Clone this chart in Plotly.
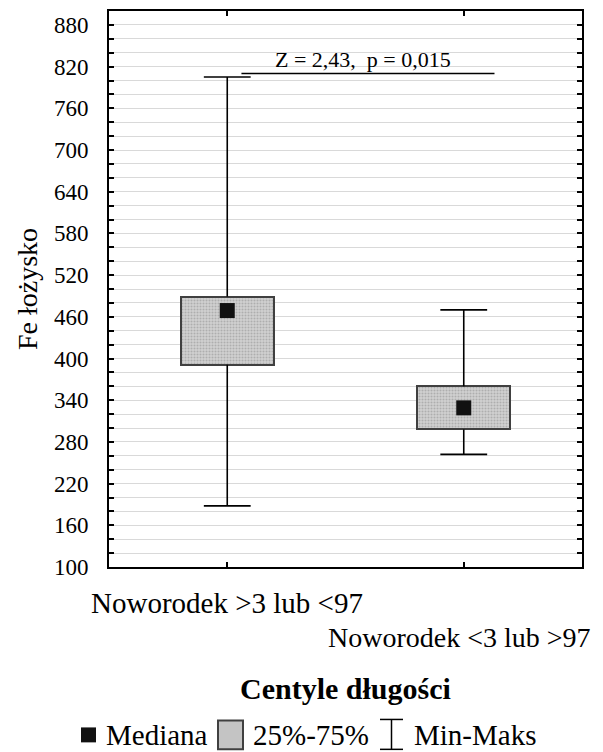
import plotly.graph_objects as go

# ---- data ----
categories = ["Noworodek >3 lub <97", "Noworodek <3 lub >97"]
x_pos = [0, 1]
q1 = [391, 298]
q3 = [489, 360]
median = [469, 329]
minimum = [188, 262]
maximum = [805, 470]
sig_text = "Z = 2,43,  p = 0,015"
sig_y = 810
sig_x = [0.06, 1.13]
y_ticks = list(range(100, 901, 20))
y_labels = [str(v) if (v - 100) % 60 == 0 else "" for v in y_ticks]
y_title = "Fe łożysko"
x_title = "Centyle długości"
legend_labels = ["Mediana", "25%-75%", "Min-Maks"]

FONT = "Liberation Serif"
OFF = 8  # browser body margin
W, H = 603 - OFF, 752 - OFF
L, R, T, B = 109 - OFF, 21, 9 - OFF, 185
PW, PH = W - L - R, H - T - B

def px_x(p):
    return (p - OFF - L) / PW

def px_y(p):
    return (H - B - (p - OFF)) / PH

box_w = 0.394
cap = 0.099

fig = go.Figure()

# boxes
fig.add_trace(go.Bar(
    x=x_pos, y=[b - a for a, b in zip(q1, q3)], base=q1, width=box_w,
    marker=dict(color="#c4c4c4", line=dict(color="#404040", width=2),
                pattern=dict(shape=".", fgcolor="#8a8a8a", bgcolor="#d2d2d2",
                             size=3, solidity=0.4)),
    showlegend=False, hoverinfo="skip"))

# whiskers
wx, wy = [], []
for x, a, b, lo, hi in zip(x_pos, q1, q3, minimum, maximum):
    wx += [x, x, None, x - cap, x + cap, None, x, x, None, x - cap, x + cap, None]
    wy += [b, hi, None, hi, hi, None, a, lo, None, lo, lo, None]
fig.add_trace(go.Scatter(x=wx, y=wy, mode="lines",
                         line=dict(color="black", width=1.6),
                         showlegend=False, hoverinfo="skip"))

# medians
fig.add_trace(go.Scatter(x=x_pos, y=median, mode="markers",
                         marker=dict(symbol="square", size=15, color="#111111"),
                         showlegend=False, hoverinfo="skip"))

# significance line
fig.add_trace(go.Scatter(x=sig_x, y=[sig_y, sig_y], mode="lines",
                         line=dict(color="black", width=1.6),
                         showlegend=False, hoverinfo="skip"))

ann = []
ann.append(dict(x=sum(sig_x) / 2 - 0.02, y=sig_y, xref="x", yref="y", text=sig_text,
                showarrow=False, yanchor="bottom", yshift=0,
                font=dict(family=FONT, size=22, color="black")))

# category labels (staggered)
label_pix_y = [603, 638]
label_sizes = [29, 28]
label_shift = [0, -4]
for x, c, py, fs, sh in zip(x_pos, categories, label_pix_y, label_sizes, label_shift):
    ann.append(dict(x=x, y=px_y(py), xref="x", yref="paper", text=c,
                    showarrow=False, xanchor="center", yanchor="middle", xshift=sh,
                    font=dict(family=FONT, size=fs, color="black")))

# x title
ann.append(dict(x=px_x(345), y=px_y(689), xref="paper", yref="paper",
                text="<b>" + x_title + "</b>", showarrow=False,
                xanchor="center", yanchor="middle",
                font=dict(family=FONT, size=30, color="black")))

# y title
ann.append(dict(x=px_x(27), y=0.5, xref="paper", yref="paper", text=y_title,
                textangle=-90, showarrow=False, xanchor="center", yanchor="middle",
                font=dict(family=FONT, size=28, color="black")))

# legend
leg_y = 736
for lx, lab in zip([104, 251, 412], legend_labels):
    ann.append(dict(x=px_x(lx), y=px_y(leg_y), xref="paper", yref="paper",
                    text=lab, showarrow=False, xanchor="left", yanchor="middle",
                    font=dict(family=FONT, size=29, color="black")))

shapes = []
shapes.append(dict(type="rect", xref="paper", yref="paper",
                   x0=px_x(81), x1=px_x(96), y0=px_y(743), y1=px_y(728),
                   fillcolor="#111111", line=dict(width=0)))
shapes.append(dict(type="rect", xref="paper", yref="paper",
                   x0=px_x(218), x1=px_x(243), y0=px_y(750), y1=px_y(721),
                   fillcolor="#c4c4c4", line=dict(color="#404040", width=2)))
ix = 391.5
for seg in [(ix, 720, ix, 750), (380, 720, 403, 720), (380, 750, 403, 750)]:
    shapes.append(dict(type="line", xref="paper", yref="paper",
                       x0=px_x(seg[0]), y0=px_y(seg[1]), x1=px_x(seg[2]), y1=px_y(seg[3]),
                       line=dict(color="black", width=1.5)))

fig.update_layout(
    width=W, height=H,
    margin=dict(l=L, r=R, t=T, b=B, pad=0),
    paper_bgcolor="white", plot_bgcolor="white",
    font=dict(family=FONT, color="black"),
    annotations=ann, shapes=shapes, bargap=0,
    xaxis=dict(range=[-0.5, 1.5], tickvals=x_pos, ticktext=["", ""],
               showgrid=False, zeroline=False, showline=True, linecolor="black",
               linewidth=2, mirror="ticks", ticks="inside", ticklen=5,
               tickcolor="black", tickwidth=1.5),
    yaxis=dict(range=[100, 900], tickvals=y_ticks, ticktext=y_labels,
               showgrid=True, gridcolor="#d9d9d9", gridwidth=1.2, zeroline=False,
               showline=True, linecolor="black", linewidth=2, mirror="ticks",
               ticks="inside", ticklen=5, tickcolor="black", tickwidth=1.5,
               ticklabelstandoff=14,
               tickfont=dict(family=FONT, size=23, color="black")),
)

fig.write_html("out.html")
